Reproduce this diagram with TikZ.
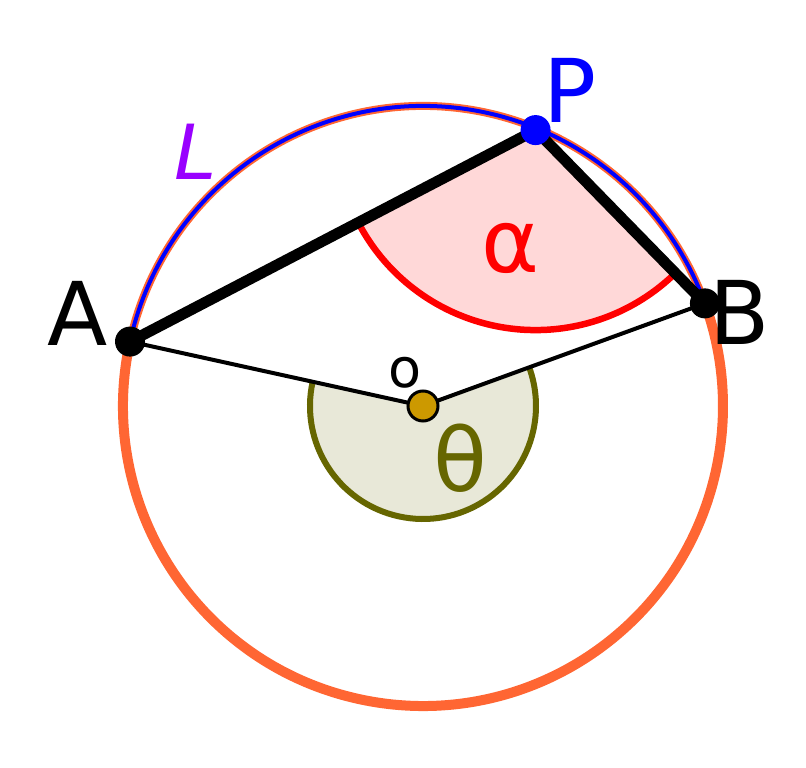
\documentclass[tikz,border=0pt]{standalone}
\usepackage{fontspec}
\setmainfont{DejaVu Sans}
\usetikzlibrary{calc}
\definecolor{ringorange}{HTML}{FF6633}
\definecolor{olivedark}{HTML}{666600}
\definecolor{olivefill}{HTML}{E8E8D8}
\definecolor{pinkfill}{HTML}{FFD8D8}
\definecolor{goldpt}{HTML}{CC9900}
\definecolor{lpurple}{HTML}{9900FF}
\begin{document}
\begin{tikzpicture}[x=1pt, y=1pt, font=\fontsize{88}{104}\selectfont]
    \useasboundingbox (0,0) rectangle (806,768);
    \tikzset{
      dot/.style={circle, inner sep=0pt, minimum size=30pt},
      lab/.style={inner sep=0pt}
    }

    % 1. centre and points on the circle
    \coordinate (O) at (423,362);
    \coordinate (A) at ($(O)+(167.6:300)$);
    \coordinate (B) at ($(O)+(20:300)$);
    \coordinate (P) at ($(O)+(67.8:298)$);

    % 2. angle sectors
    \fill[olivefill] (O) -- ($(O)+(167.6:113)$) arc (167.6:380:113) -- cycle;
    \draw[olivedark, line width=6pt] ($(O)+(167.6:113)$) arc (167.6:380:113);
    \fill[pinkfill] (P) -- ($(P)+(207.5:200)$) arc (207.5:314.2:200) -- cycle;
    \draw[red, line width=6.5pt] ($(P)+(207.5:200)$) arc (207.5:314.2:200);

    % 3. circle: lower arc thick, upper arc L
    \draw[ringorange, line width=10pt] (A) arc (167.6:380:300);
    \draw[ringorange, line width=8pt] (B) arc (20:167.6:300);
    \draw[blue, line width=4pt] (B) arc (20:167.6:300);

    % 4. chords and radii
    \draw[line width=4pt] (A) -- (O) -- (B);
    \draw[line width=11pt] (A) -- (P) -- (B);

    % 5. points
    \node[dot, fill=black] (a) at (A) {};
    \node[dot, fill=black] (b) at (B) {};
    \node[dot, fill=blue] (p) at (P) {};
    \node[dot, fill=goldpt, draw=black, line width=3pt, minimum size=30pt] (o) at (O) {};

    % 6. labels
    \node[lab, blue] (lP) at (570,678) {P};
    \node[lab] (lA) at (78,455) {A};
    \node[lab] (lB) at (740,456) {B};
    \node[lab, lpurple, font=\fontsize{76}{90}\selectfont\itshape] (lL) at (196,616) {L};
    \node[lab, red] (lalpha) at (510,520) {α};
    \node[lab, olivedark] (ltheta) at (460,310) {θ};
    \node[lab, font=\fontsize{54}{64}\selectfont] (lO) at (405,395) {o};
\end{tikzpicture}
\end{document}
